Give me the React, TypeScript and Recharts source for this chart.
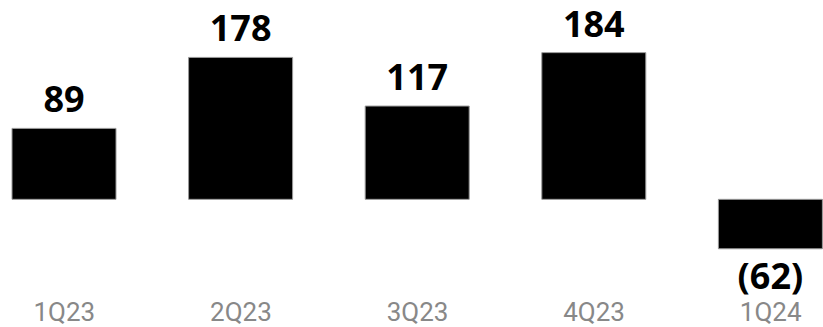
import React from "react";
import { BarChart, Bar, XAxis, YAxis, LabelList } from "recharts";

const quarters = ["1Q23", "2Q23", "3Q23", "4Q23", "1Q24"];
const values = [89, 178, 117, 184, -62];
const labels = ["89", "178", "117", "184", "(62)"];

const data = quarters.map((q, i) => ({ q, v: values[i], label: labels[i] }));

const ValueLabel = (props: any) => {
  const { x, y, width, height, index } = props;
  const v = values[index];
  const cx = x + width / 2;
  const top = Math.min(y, y + height);
  const bottom = Math.max(y, y + height);
  const baseline = v >= 0 ? top - 16 : bottom + 40;
  return (
    <text
      x={cx}
      y={baseline}
      textAnchor="middle"
      fontFamily="'Noto Sans', sans-serif"
      fontWeight={700}
      fontSize={36}
      fill="#000"
    >
      {labels[index]}
    </text>
  );
};

export default function App() {
  return (
    <div style={{ position: "absolute", left: 0, top: 0, width: 823, height: 327, background: "#fff" }}>
      <BarChart
        width={823}
        height={327}
        data={data}
        margin={{ top: 0, right: -36, bottom: 0, left: -24 }}
        barSize={104}
      >
        <XAxis
          dataKey="q"
          axisLine={false}
          tickLine={false}
          tickSize={0}
          tickMargin={0}
          height={24}
          interval={0}
          tick={{ fill: "#888", fontSize: 26, fontFamily: "Roboto, sans-serif" }}
        />
        <YAxis hide domain={[-130, 250]} />
        <Bar dataKey="v" fill="#000" stroke="#999" strokeWidth={1} isAnimationActive={false}>
          <LabelList dataKey="label" content={<ValueLabel />} />
        </Bar>
      </BarChart>
    </div>
  );
}
